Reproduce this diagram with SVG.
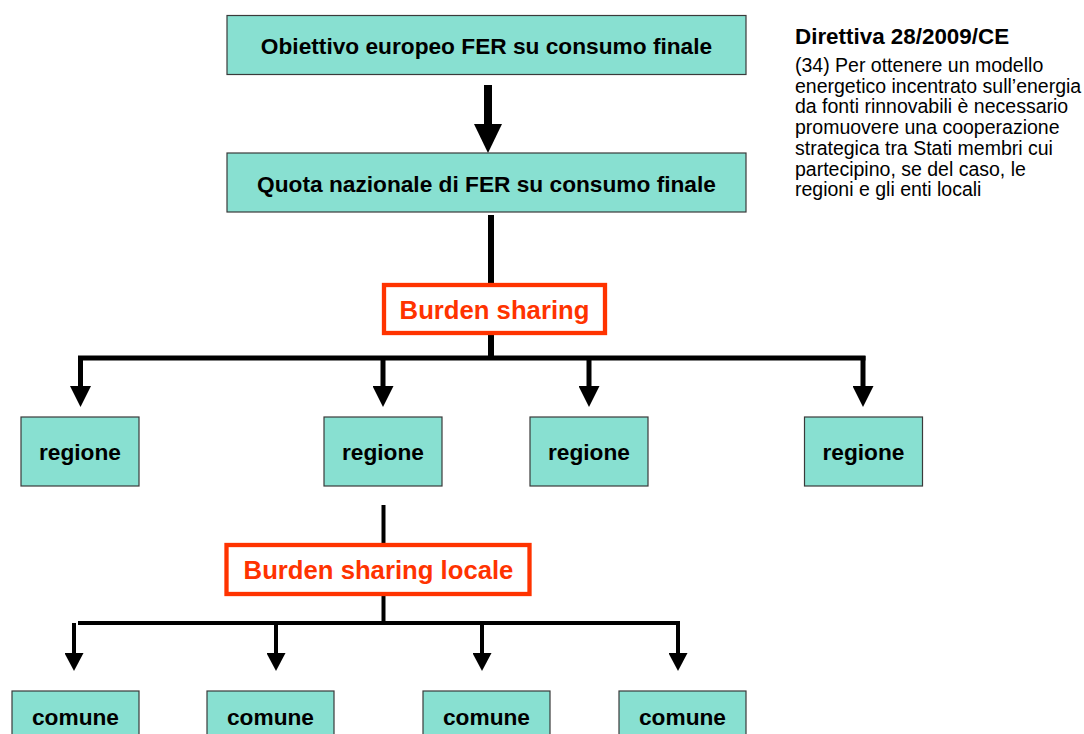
<svg xmlns="http://www.w3.org/2000/svg" width="1084" height="734" viewBox="0 0 1084 734">
  <style>
    .box { fill: #88E0D1; stroke: #3a3a3a; stroke-width: 1.2; }
    .lbl { font-family: "Liberation Sans", Arial, sans-serif; font-weight: bold; font-size: 22.7px; fill: #000; text-anchor: middle; }
    .red { fill: #fff; stroke: #FF3300; stroke-width: 4.3; }
    .redlbl { font-family: "Liberation Sans", Arial, sans-serif; font-weight: bold; font-size: 25.7px; fill: #FF3300; text-anchor: middle; }
    .ln { stroke: #000; fill: none; stroke-linecap: butt; }
    .note { font-family: "Liberation Sans", Arial, sans-serif; font-size: 19.5px; fill: #000; }
    .noteh { font-family: "Liberation Sans", Arial, sans-serif; font-size: 22.4px; font-weight: bold; fill: #000; }
  </style>
  <defs>
    <marker id="ahTop" markerUnits="userSpaceOnUse" viewBox="0 0 29 28" markerWidth="29" markerHeight="28" refX="1" refY="14" orient="auto">
      <path d="M0,0 L29,14 L0,28 z" fill="#000"/>
    </marker>
    <marker id="ah1" markerUnits="userSpaceOnUse" viewBox="0 0 21 21" markerWidth="21" markerHeight="21" refX="1" refY="10.5" orient="auto">
      <path d="M0,0 L21,10.5 L0,21 z" fill="#000"/>
    </marker>
    <marker id="ah2" markerUnits="userSpaceOnUse" viewBox="0 0 18 19" markerWidth="18" markerHeight="19" refX="1" refY="9.5" orient="auto">
      <path d="M0,0 L18,9.5 L0,19 z" fill="#000"/>
    </marker>
  </defs>

  <g id="connectors">
    <line class="ln" x1="488" y1="85" x2="488" y2="125" stroke-width="8" marker-end="url(#ahTop)"/>
    <line class="ln" x1="491" y1="215" x2="491" y2="356" stroke-width="6"/>
    <line class="ln" x1="78" y1="358" x2="865.5" y2="358" stroke-width="5"/>
    <line class="ln" x1="80.5" y1="356" x2="80.5" y2="387" stroke-width="5" marker-end="url(#ah1)"/>
    <line class="ln" x1="383" y1="358" x2="383" y2="387" stroke-width="5" marker-end="url(#ah1)"/>
    <line class="ln" x1="589" y1="358" x2="589" y2="387" stroke-width="5" marker-end="url(#ah1)"/>
    <line class="ln" x1="863" y1="356" x2="863" y2="387" stroke-width="5" marker-end="url(#ah1)"/>
    <line class="ln" x1="383.5" y1="505" x2="383.5" y2="623" stroke-width="4"/>
    <line class="ln" x1="78" y1="623" x2="680" y2="623" stroke-width="4"/>
    <line class="ln" x1="74" y1="623" x2="74" y2="654" stroke-width="4" marker-end="url(#ah2)"/>
    <line class="ln" x1="276" y1="623" x2="276" y2="654" stroke-width="4" marker-end="url(#ah2)"/>
    <line class="ln" x1="482" y1="623" x2="482" y2="654" stroke-width="4" marker-end="url(#ah2)"/>
    <line class="ln" x1="678" y1="621" x2="678" y2="654" stroke-width="4" marker-end="url(#ah2)"/>
  </g>

  <g id="obiettivo">
    <rect class="box" x="227" y="15.5" width="519" height="59"/>
    <text class="lbl" x="486.5" y="54">Obiettivo europeo FER su consumo finale</text>
  </g>
  <g id="quota">
    <rect class="box" x="227" y="153" width="519" height="59"/>
    <text class="lbl" x="486.5" y="192">Quota nazionale di FER su consumo finale</text>
  </g>
  <g id="burden">
    <rect class="red" x="384" y="285" width="221" height="48"/>
    <text class="redlbl" x="494.5" y="318.5">Burden sharing</text>
  </g>
  <g id="regione1">
    <rect class="box" x="21" y="417" width="118" height="69"/>
    <text class="lbl" x="80" y="460">regione</text>
  </g>
  <g id="regione2">
    <rect class="box" x="324" y="417" width="118" height="69"/>
    <text class="lbl" x="383" y="460">regione</text>
  </g>
  <g id="regione3">
    <rect class="box" x="530" y="417" width="118" height="69"/>
    <text class="lbl" x="589" y="460">regione</text>
  </g>
  <g id="regione4">
    <rect class="box" x="804.5" y="417" width="118" height="69"/>
    <text class="lbl" x="863.5" y="460">regione</text>
  </g>
  <g id="burden-locale">
    <rect class="red" x="226.5" y="545" width="303" height="49"/>
    <text class="redlbl" x="378.5" y="579">Burden sharing locale</text>
  </g>
  <g id="comune1">
    <rect class="box" x="12" y="691" width="127" height="69"/>
    <text class="lbl" x="75.5" y="725">comune</text>
  </g>
  <g id="comune2">
    <rect class="box" x="207" y="691" width="127" height="69"/>
    <text class="lbl" x="270.5" y="725">comune</text>
  </g>
  <g id="comune3">
    <rect class="box" x="423" y="691" width="127" height="69"/>
    <text class="lbl" x="486.5" y="725">comune</text>
  </g>
  <g id="comune4">
    <rect class="box" x="619" y="691" width="127" height="69"/>
    <text class="lbl" x="682.5" y="725">comune</text>
  </g>

  <g id="direttiva">
    <text class="noteh" x="795" y="43.5">Direttiva 28/2009/CE</text>
    <text class="note" x="795" y="72">(34) Per ottenere un modello</text>
    <text class="note" x="795" y="92.7">energetico incentrato sull’energia</text>
    <text class="note" x="795" y="113.4">da fonti rinnovabili è necessario</text>
    <text class="note" x="795" y="134.1">promuovere una cooperazione</text>
    <text class="note" x="795" y="154.8">strategica tra Stati membri cui</text>
    <text class="note" x="795" y="175.5">partecipino, se del caso, le</text>
    <text class="note" x="795" y="196.2">regioni e gli enti locali</text>
  </g>
</svg>
